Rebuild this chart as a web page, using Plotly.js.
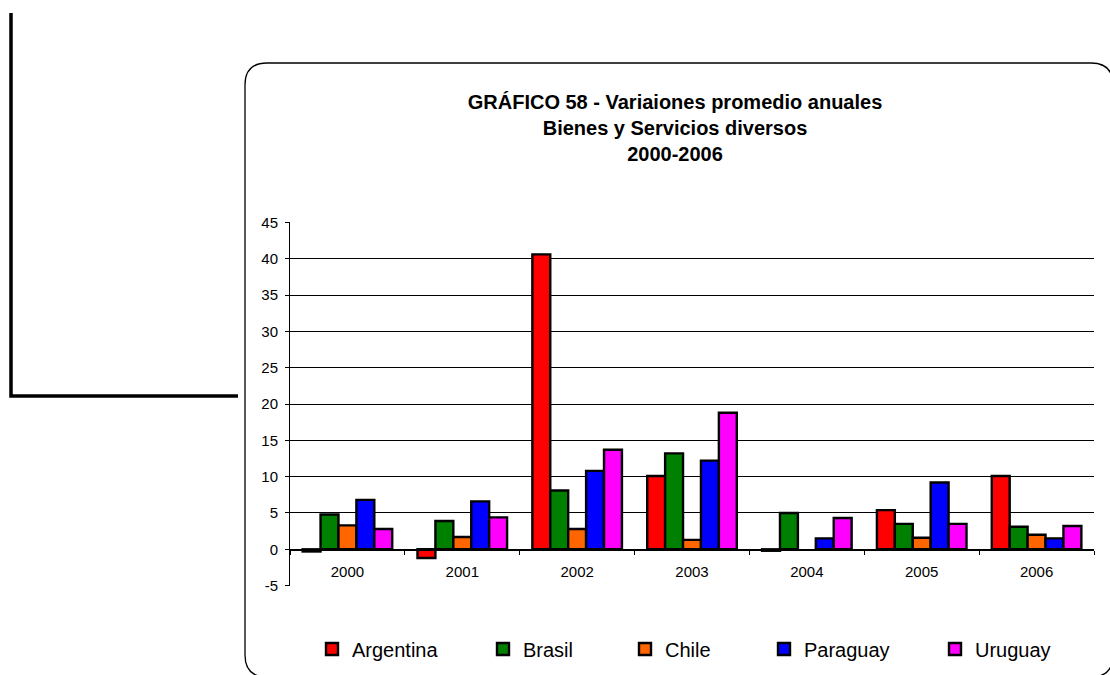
<!DOCTYPE html>
<html>
<head>
<meta charset="utf-8">
<script src="https://cdn.plot.ly/plotly-3.0.1.min.js"></script>
<style>html,body{margin:0;padding:0;background:#fff;}#chart{width:1110px;height:675px;}</style>
</head>
<body>
<div id="chart"></div>
<script>
// ---- data ----
const years = ['2000', '2001', '2002', '2003', '2004', '2005', '2006'];
const seriesNames = ['Argentina', 'Brasil', 'Chile', 'Paraguay', 'Uruguay'];
const argentina = [-0.3, -1.2, 40.6, 10.1, -0.2, 5.4, 10.1];
const brasil    = [4.8, 3.9, 8.1, 13.2, 5.0, 3.5, 3.1];
const chile     = [3.3, 1.7, 2.8, 1.3, null, 1.6, 2.0];
const paraguay  = [6.8, 6.6, 10.8, 12.2, 1.5, 9.2, 1.5];
const uruguay   = [2.8, 4.4, 13.7, 18.8, 4.3, 3.5, 3.2];
const yTicks = [-5, 0, 5, 10, 15, 20, 25, 30, 35, 40, 45];
const titleLines = ['GRÁFICO 58 - Variaiones promedio anuales', 'Bienes y Servicios diversos', '2000-2006'];

// ---- styling ----
const colors = ['#FF0000', '#008000', '#FF6600', '#0000FF', '#FF00FF'];
const values = [argentina, brasil, chile, paraguay, uruguay];
const FONT = 'Arial, "Liberation Sans", sans-serif';

const W = 1110, H = 675, ML = 290, MR = 16, MT = 222, MB = 89;
const PW = W - ML - MR, PH = H - MT - MB;
const fx = px => (px - ML) / PW;
const fy = py => (H - MB - py) / PH;

function rrect(x0, y0, x1, y1, r) {
  const p = (x, y) => fx(x).toFixed(5) + ',' + fy(y).toFixed(5);
  return 'M' + p(x0 + r, y0) + ' L' + p(x1 - r, y0) + ' Q' + p(x1, y0) + ' ' + p(x1, y0 + r) +
    ' L' + p(x1, y1 - r) + ' Q' + p(x1, y1) + ' ' + p(x1 - r, y1) +
    ' L' + p(x0 + r, y1) + ' Q' + p(x0, y1) + ' ' + p(x0, y1 - r) +
    ' L' + p(x0, y0 + r) + ' Q' + p(x0, y0) + ' ' + p(x0 + r, y0) + ' Z';
}

const legendIds = ['legend', 'legend2', 'legend3', 'legend4', 'legend5'];
const legendLeftPx = [312, 483, 625, 764, 935];

const traces = seriesNames.map((name, i) => ({
  type: 'bar',
  name: name,
  x: years,
  y: values[i],
  legend: legendIds[i],
  showlegend: true,
  marker: { color: colors[i], line: { color: '#000000', width: 2.4 } },
  hoverinfo: 'x+y+name'
}));

const layout = {
  width: W, height: H,
  showlegend: true,
  margin: { l: ML, r: MR, t: MT, b: MB, pad: 0, autoexpand: false },
  paper_bgcolor: '#ffffff',
  plot_bgcolor: '#ffffff',
  font: { family: FONT, color: '#000000', size: 15 },
  title: {
    text: titleLines.join('<br>'),
    font: { family: FONT, size: 20, color: '#000000', weight: 'bold' },
    x: 675 / W, xanchor: 'center',
    y: 1 - 109 / H, yanchor: 'top'
  },
  barmode: 'group',
  bargap: 0.22,
  bargroupgap: 0,
  xaxis: {
    type: 'category',
    anchor: 'free',
    position: 0.1,
    showline: true, linecolor: '#000000', linewidth: 1,
    ticks: 'outside', tickson: 'boundaries', ticklen: 4, tickcolor: '#000000', tickwidth: 1,
    ticklabelstandoff: 8,
    showgrid: false, zeroline: false,
    tickfont: { family: FONT, size: 15, color: '#000000' }
  },
  yaxis: {
    range: [-5.05, 45.05],
    tickvals: yTicks,
    ticktext: yTicks.map(String),
    showline: true, linecolor: '#000000', linewidth: 1,
    ticks: 'outside', ticklen: 4, tickcolor: '#000000', tickwidth: 1,
    ticklabelstandoff: 4,
    showgrid: true, gridcolor: '#000000', gridwidth: 1,
    zeroline: false,
    tickfont: { family: FONT, size: 15, color: '#000000' }
  },
  shapes: [
    { type: 'path', xref: 'paper', yref: 'paper', path: rrect(245, 63, 1113, 677, 22),
      line: { color: '#000000', width: 1.3 }, fillcolor: 'rgba(0,0,0,0)' },
    { type: 'path', xref: 'paper', yref: 'paper',
      path: 'M' + fx(11) + ',' + fy(13) + ' L' + fx(11) + ',' + fy(396) + ' L' + fx(238) + ',' + fy(396),
      line: { color: '#000000', width: 3.5 }, fillcolor: 'rgba(0,0,0,0)' }
  ]
};

legendIds.forEach((id, i) => {
  layout[id] = {
    visible: true,
    orientation: 'h',
    x: fx(legendLeftPx[i]), xanchor: 'left',
    y: fy(649), yanchor: 'middle',
    bgcolor: 'rgba(0,0,0,0)', borderwidth: 0,
    font: { family: FONT, size: 20, color: '#000000' },
    traceorder: 'normal'
  };
});

Plotly.newPlot('chart', traces, layout, { displayModeBar: false, staticPlot: true });
</script>
</body>
</html>
